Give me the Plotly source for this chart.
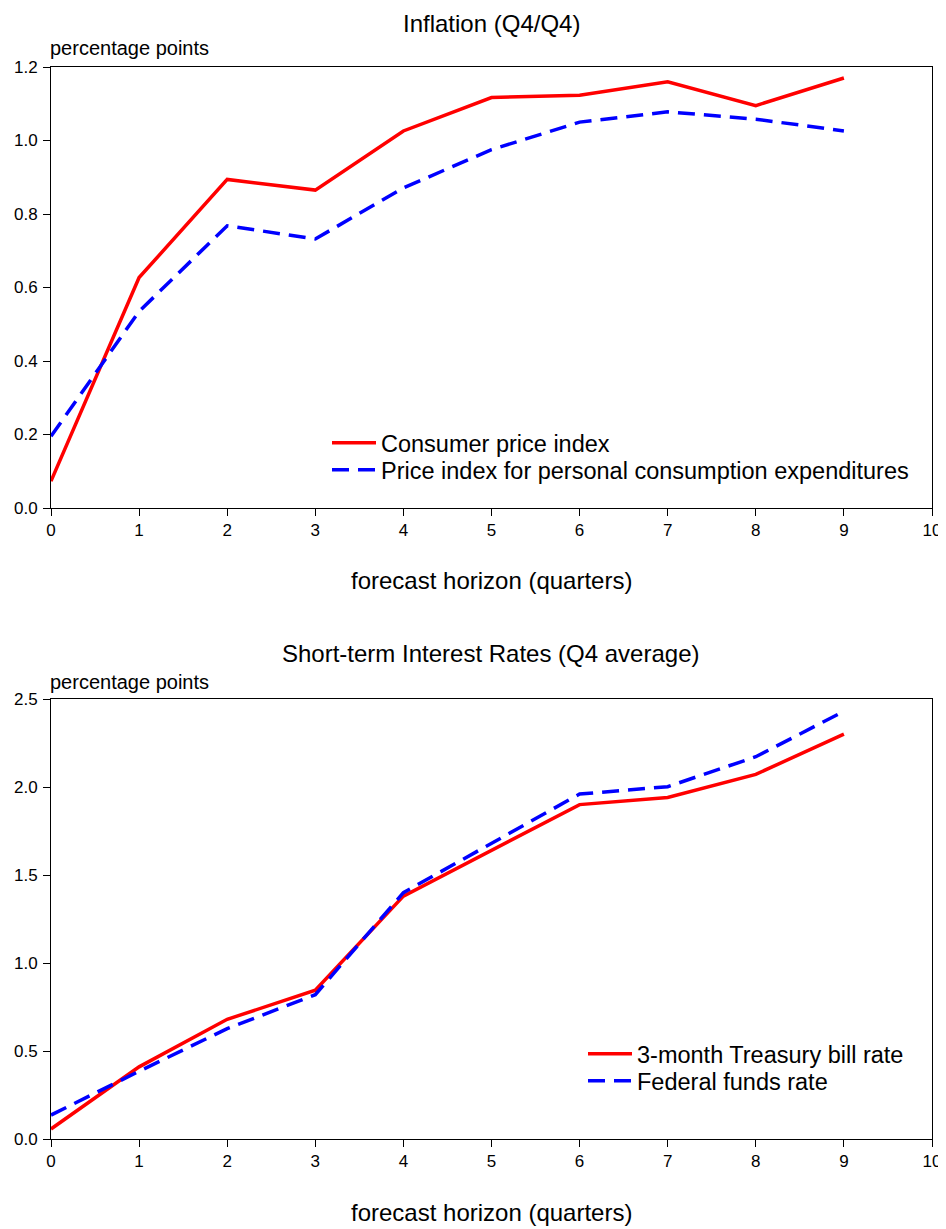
import plotly.graph_objects as go

horizon = [0, 1, 2, 3, 4, 5, 6, 7, 8, 9]

cpi = [0.073, 0.627, 0.894, 0.865, 1.026, 1.117, 1.123, 1.160, 1.095, 1.170]
pce = [0.195, 0.535, 0.768, 0.732, 0.871, 0.975, 1.050, 1.078, 1.058, 1.026]

tbill = [0.057, 0.410, 0.680, 0.845, 1.380, 1.640, 1.900, 1.940, 2.072, 2.300]
fedfunds = [0.136, 0.385, 0.627, 0.820, 1.400, 1.680, 1.960, 2.002, 2.172, 2.430]

x_ticks = [0, 1, 2, 3, 4, 5, 6, 7, 8, 9, 10]

title1 = "Inflation (Q4/Q4)"
title2 = "Short-term Interest Rates (Q4 average)"
ylab = "percentage points"
xlab = "forecast horizon (quarters)"

# page body has an 8px margin, so lay out in (reference - 8) coordinates
OFF = 8
FW, FH = 946 - OFF, 1229 - OFF
FONT = "Liberation Sans, Arial, sans-serif"
RED = "#FF0000"
BLUE = "#0000FF"
DASH = "17px,9px"
PLOT_L, PLOT_R = 51, 932


def py(p):
    return 1 - (p - OFF) / FH


def px(p):
    return (p - PLOT_L) / (PLOT_R - PLOT_L)


fig = go.Figure()
fig.add_trace(go.Scatter(x=horizon, y=cpi, mode="lines", name="Consumer price index",
                         line=dict(color=RED, width=3.5), xaxis="x", yaxis="y", legend="legend"))
fig.add_trace(go.Scatter(x=horizon, y=pce, mode="lines",
                         name="Price index for personal consumption expenditures",
                         line=dict(color=BLUE, width=3.5, dash=DASH), xaxis="x", yaxis="y", legend="legend2"))
fig.add_trace(go.Scatter(x=horizon, y=tbill, mode="lines", name="3-month Treasury bill rate",
                         line=dict(color=RED, width=3.5), xaxis="x2", yaxis="y2", legend="legend3"))
fig.add_trace(go.Scatter(x=horizon, y=fedfunds, mode="lines", name="Federal funds rate",
                         line=dict(color=BLUE, width=3.5, dash=DASH), xaxis="x2", yaxis="y2", legend="legend4"))

axis_common = dict(showgrid=False, zeroline=False, showline=True, linecolor="black", linewidth=1,
                   mirror=True, ticks="outside", ticklen=7, tickcolor="black", tickwidth=1,
                   automargin=False,
                   tickfont=dict(family=FONT, size=17, color="black"))

LEG_FONT = dict(family=FONT, size=23.5, color="black")


def leg(xref_px, yref_px):
    return dict(x=px(xref_px), y=py(yref_px), xanchor="left", yanchor="middle",
                bgcolor="rgba(0,0,0,0)", borderwidth=0, font=LEG_FONT, itemwidth=44,
                tracegroupgap=0)


fig.update_layout(
    template="none",
    width=FW, height=FH,
    margin=dict(l=PLOT_L - OFF, r=FW - (PLOT_R - OFF), t=0, b=0, autoexpand=False),
    paper_bgcolor="white", plot_bgcolor="white",
    font=dict(family=FONT, color="black"),
    xaxis=dict(axis_common, range=[0, 10], tickvals=x_ticks, domain=[0, 1], anchor="y"),
    yaxis=dict(axis_common, range=[0, 1.2], dtick=0.2, tickformat=".1f", ticklabelstandoff=2,
               domain=[py(508), py(67)], anchor="x"),
    xaxis2=dict(axis_common, range=[0, 10], tickvals=x_ticks, domain=[0, 1], anchor="y2"),
    yaxis2=dict(axis_common, range=[0, 2.5], dtick=0.5, tickformat=".1f", ticklabelstandoff=2,
                domain=[py(1139), py(699)], anchor="x2"),
    legend=leg(327, 443),
    legend2=leg(327, 470),
    legend3=leg(583, 1054),
    legend4=leg(583, 1081),
    showlegend=True,
)

ann = []
ann.append(dict(text=title1, x=px(491), y=1, xref="paper", yref="paper",
                xanchor="center", yanchor="top", showarrow=False, font=dict(size=24, family=FONT)))
ann.append(dict(text=ylab, x=px(48), y=py(48), xref="paper", yref="paper",
                xanchor="left", yanchor="middle", showarrow=False, font=dict(size=20, family=FONT)))
ann.append(dict(text=xlab, x=px(491), y=py(580), xref="paper", yref="paper",
                xanchor="center", yanchor="middle", showarrow=False, font=dict(size=24, family=FONT)))
ann.append(dict(text=title2, x=px(491), y=py(653), xref="paper", yref="paper",
                xanchor="center", yanchor="middle", showarrow=False, font=dict(size=24, family=FONT)))
ann.append(dict(text=ylab, x=px(48), y=py(682), xref="paper", yref="paper",
                xanchor="left", yanchor="middle", showarrow=False, font=dict(size=20, family=FONT)))
ann.append(dict(text=xlab, x=px(491), y=py(1212), xref="paper", yref="paper",
                xanchor="center", yanchor="middle", showarrow=False, font=dict(size=24, family=FONT)))
fig.update_layout(annotations=ann)

fig.write_html("out.html")
